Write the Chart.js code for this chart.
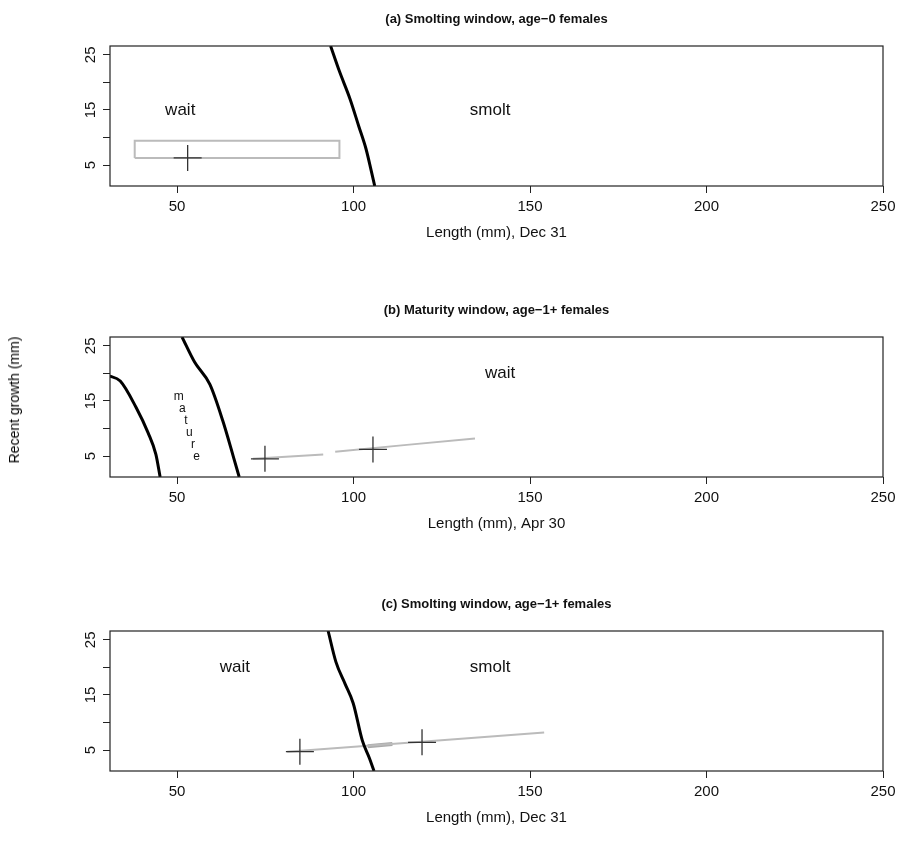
<!DOCTYPE html>
<html>
<head>
<meta charset="utf-8">
<script src="https://cdn.jsdelivr.net/npm/chart.js@4.4.0/dist/chart.umd.min.js"></script>
<style>
  body { margin: 0; background: #fff; width: 906px; height: 842px; position: relative; font-family: "Liberation Sans", Arial, sans-serif; }
  .panel { position: absolute; left: 0; width: 906px; height: 246px; }
  #ylab { position: absolute; left: 14px; top: 400px; transform: translate(-50%, -50%) rotate(-90deg); font-size: 14px; white-space: nowrap; }
</style>
</head>
<body>
<div class="panel" style="top:0"><canvas id="cA"></canvas></div>
<div class="panel" style="top:291px"><canvas id="cB"></canvas></div>
<div class="panel" style="top:585px"><canvas id="cC"></canvas></div>
<div id="ylab">Recent growth (mm)</div>
<script>
// axes
const xTicks = [50, 100, 150, 200, 250];
const yTicks = [5, 10, 15, 20, 25];
const yLabels = [5, 15, 25];

// (a) smolting window, age-0 females
const aBoundary = [[93.5, 26.6], [96, 22], [99, 17], [101.5, 12], [103.5, 8], [105, 4], [106, 1.2]];
const aBox = [[38, 6.3], [96, 6.3], [96, 9.4], [38, 9.4], [38, 6.3]];
const aCross = [[53, 6.3]];

// (b) maturity window, age-1+ females
const bBoundary1 = [[30.5, 19.6], [33.9, 18.6], [38.4, 13.8], [41.8, 9.2], [44, 5.3], [45.2, 1.2]];
const bBoundary2 = [[51.4, 26.6], [55, 22], [59.3, 18], [63, 11.3], [65.9, 5], [67.6, 1.2]];
const bTrack1 = [[71.5, 4.5], [91.4, 5.3]];
const bTrack2 = [[94.8, 5.8], [134.4, 8.2]];
const bCross = [[74.9, 4.5], [105.5, 6.2]];

// (c) smolting window, age-1+ females
const cBoundary = [[92.8, 26.6], [95, 21], [97.6, 17], [99.9, 13.5], [102.5, 6.7], [104.5, 3.5], [105.8, 1.2]];
const cTrack = [[81.2, 4.7], [154, 8.2]];
const cTrackBold = [[104, 5.7], [111, 6.1]];
const cCross = [[84.8, 4.7], [119.4, 6.4]];

const pts = arr => arr.map(p => ({ x: p[0], y: p[1] }));

function lineSet(arr, color, width, tension) {
    return { data: pts(arr), showLine: true, borderColor: color, borderWidth: width, pointRadius: 0, tension: tension || 0, cubicInterpolationMode: 'monotone' };
}
// crosses kept as hidden datasets, drawn by the plugin from their parsed points
function crossSet(arr) {
    return { data: pts(arr), showLine: false, pointRadius: 0, isCross: true };
}

const decor = {
    id: 'decor',
    afterDraw(chart, args, opts) {
        const { ctx, chartArea: a, scales: { x, y } } = chart;
        ctx.save();
        ctx.strokeStyle = '#222';
        ctx.lineWidth = 1.2;
        ctx.strokeRect(a.left, a.top, a.right - a.left, a.bottom - a.top);
        chart.data.datasets.forEach(ds => {
            if (!ds.isCross) return;
            ds.data.forEach(p => {
                const px = x.getPixelForValue(p.x), py = y.getPixelForValue(p.y);
                ctx.strokeStyle = '#333';
                ctx.lineWidth = 1.3;
                ctx.beginPath();
                ctx.moveTo(px - 14, py); ctx.lineTo(px + 14, py);
                ctx.moveTo(px, py - 13); ctx.lineTo(px, py + 13);
                ctx.stroke();
            });
        });
        ctx.fillStyle = '#111';
        ctx.font = 'bold 13px "Liberation Sans", Arial, sans-serif';
        ctx.textAlign = 'center';
        ctx.textBaseline = 'middle';
        ctx.fillText(opts.title, (a.left + a.right) / 2, a.top - 27);
        // rotated y labels
        ctx.font = '15px "Liberation Sans", Arial, sans-serif';
        yLabels.forEach(v => {
            ctx.save();
            ctx.translate(a.left - 19, y.getPixelForValue(v));
            ctx.rotate(-Math.PI / 2);
            ctx.fillText(String(v), 0, 0);
            ctx.restore();
        });
        (opts.labels || []).forEach(l => {
            ctx.font = (l.size || 17) + 'px "Liberation Sans", Arial, sans-serif';
            ctx.fillText(l.text, x.getPixelForValue(l.x), y.getPixelForValue(l.y));
        });
        ctx.restore();
    }
};

function makeChart(id, title, xTitle, datasets, labels) {
    new Chart(document.getElementById(id), {
        type: 'scatter',
        data: { datasets },
        plugins: [decor],
        options: {
            responsive: true,
            maintainAspectRatio: false,
            animation: false,
            layout: { padding: { top: 46, left: 70, right: 23, bottom: 0 } },
            plugins: { legend: { display: false }, tooltip: { enabled: false }, decor: { title, labels } },
            scales: {
                x: {
                    type: 'linear', min: 31, max: 250,
                    afterBuildTicks: s => { s.ticks = xTicks.map(v => ({ value: v })); },
                    afterFit: s => { s.height = 60; },
                    grid: { drawOnChartArea: false, drawTicks: true, tickLength: 7, color: '#222' },
                    border: { display: false },
                    ticks: { color: '#111', font: { size: 15, family: '"Liberation Sans", Arial' }, maxRotation: 0, padding: 5 },
                    title: { display: true, text: xTitle, color: '#111', font: { size: 15, family: '"Liberation Sans", Arial' }, padding: { top: 3 } }
                },
                y: {
                    type: 'linear', min: 1.2, max: 26.6,
                    afterBuildTicks: s => { s.ticks = yTicks.map(v => ({ value: v })); },
                    afterFit: s => { s.width = 40; },
                    grid: { drawOnChartArea: false, drawTicks: true, tickLength: 7, color: '#222' },
                    border: { display: false },
                    ticks: { callback: () => '', padding: 0 }
                }
            }
        }
    });
}

makeChart('cA', '(a) Smolting window, age\u22120 females', 'Length (mm), Dec 31', [
    lineSet(aBoundary, '#000', 3, 0.4),
    lineSet(aBox, '#bbb', 2),
    crossSet(aCross)
], [{ x: 50.9, y: 15, text: 'wait' }, { x: 138.7, y: 15, text: 'smolt' }]);

const mature = 'mature'.split('').map((c, i) => ({ text: c, x: 50.5 + i * 1.0, y: 15.8 - i * 2.2, size: 12 }));
makeChart('cB', '(b) Maturity window, age\u22121+ females', 'Length (mm), Apr 30', [
    lineSet(bBoundary1, '#000', 3, 0.4),
    lineSet(bBoundary2, '#000', 3, 0.4),
    lineSet(bTrack1, '#bbb', 2),
    lineSet(bTrack2, '#bbb', 2),
    crossSet(bCross)
], [{ x: 141.5, y: 20, text: 'wait' }].concat(mature));

makeChart('cC', '(c) Smolting window, age\u22121+ females', 'Length (mm), Dec 31', [
    lineSet(cBoundary, '#000', 3, 0.4),
    lineSet(cTrack, '#bbb', 2),
    lineSet(cTrackBold, '#aaa', 4),
    crossSet(cCross)
], [{ x: 66.4, y: 20, text: 'wait' }, { x: 138.7, y: 20, text: 'smolt' }]);
</script>
</body>
</html>
